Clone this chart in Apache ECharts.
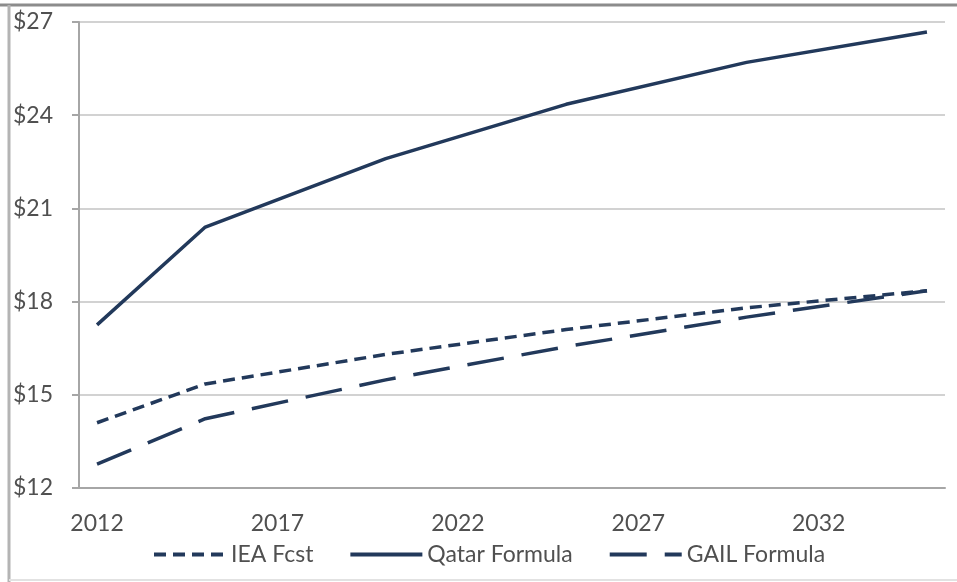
<!DOCTYPE html>
<html>
<head>
<meta charset="utf-8">
<script src="https://cdn.jsdelivr.net/npm/echarts@6/dist/echarts.min.js"></script>
<style>
html,body{margin:0;padding:0;background:#fff;}
#chart{width:957px;height:582px;}
</style>
</head>
<body>
<div id="chart"></div>
<script>
// years on the category axis
var years = ['2012','2013','2014','2015','2016','2017','2018','2019','2020','2021','2022','2023',
             '2024','2025','2026','2027','2028','2029','2030','2031','2032','2033','2034','2035'];
// values read at the kinks of each line (2012, 2015, 2020, 2025, 2030, 2035)
var ieaFcst      = [14.1, null, null, 15.35, null, null, null, null, 16.3, null, null, null,
                    null, 17.1, null, null, null, null, 17.8, null, null, null, null, 18.35];
var qatarFormula = [17.25, null, null, 20.4, null, null, null, null, 22.6, null, null, null,
                    null, 24.35, null, null, null, null, 25.7, null, null, null, null, 26.68];
var gailFormula  = [12.77, null, null, 14.23, null, null, null, null, 15.48, null, null, null,
                    null, 16.55, null, null, null, null, 17.5, null, null, null, null, 18.35];
var seriesNames = ['IEA Fcst', 'Qatar Formula', 'GAIL Formula'];

var chart = echarts.init(document.getElementById('chart'));
var lineColor = '#22395b', textColor = '#505050', font = 'Lato';

function makeSeries(name, data, dash){
    return {
        name: name,
        type: 'line',
        data: data,
        symbol: 'none',
        connectNulls: true,
        silent: true,
        lineStyle: {color: lineColor, width: 3.5, type: dash, cap: 'butt'},
        itemStyle: {color: lineColor}
    };
}

chart.setOption({
    animation: false,
    backgroundColor: '#fff',
    graphic: [
        {type: 'line', shape: {x1: 0, y1: 5, x2: 957, y2: 5}, style: {stroke: '#8c8c8c', lineWidth: 3}},
        {type: 'line', shape: {x1: 9, y1: 5, x2: 9, y2: 582}, style: {stroke: '#b4b4b4', lineWidth: 3}},
        {type: 'line', shape: {x1: 9, y1: 580, x2: 957, y2: 580}, style: {stroke: '#e2e2e2', lineWidth: 2}}
    ],
    grid: {left: 79, right: 12, top: 22, bottom: 94},
    legend: {
        data: seriesNames,
        left: 147,
        top: 538,
        itemWidth: 72,
        itemHeight: 14,
        itemGap: 35,
        itemStyle: {opacity: 0},
        lineStyle: {width: 4},
        textStyle: {color: textColor, fontFamily: font, fontSize: 23}
    },
    xAxis: {
        type: 'category',
        data: years,
        boundaryGap: true,
        axisLine: {lineStyle: {color: '#a6a6a6', width: 2}},
        axisTick: {interval: 0, length: 8, lineStyle: {color: '#a6a6a6', width: 2}},
        axisLabel: {interval: 4, margin: 24, color: textColor, fontFamily: font, fontSize: 23}
    },
    yAxis: {
        type: 'value',
        min: 12,
        max: 27,
        interval: 3,
        axisLine: {show: true, lineStyle: {color: '#a6a6a6', width: 2}},
        axisTick: {show: true, length: 7, lineStyle: {color: '#a6a6a6', width: 2}},
        splitLine: {lineStyle: {color: '#d2d2d2', width: 2}},
        axisLabel: {margin: 26, color: textColor, fontFamily: font, fontSize: 23,
            formatter: function(v){ return '$' + v; }}
    },
    series: [
        makeSeries(seriesNames[0], ieaFcst, [12, 7]),
        makeSeries(seriesNames[1], qatarFormula, 'solid'),
        makeSeries(seriesNames[2], gailFormula, [37, 18])
    ]
});
</script>
</body>
</html>
